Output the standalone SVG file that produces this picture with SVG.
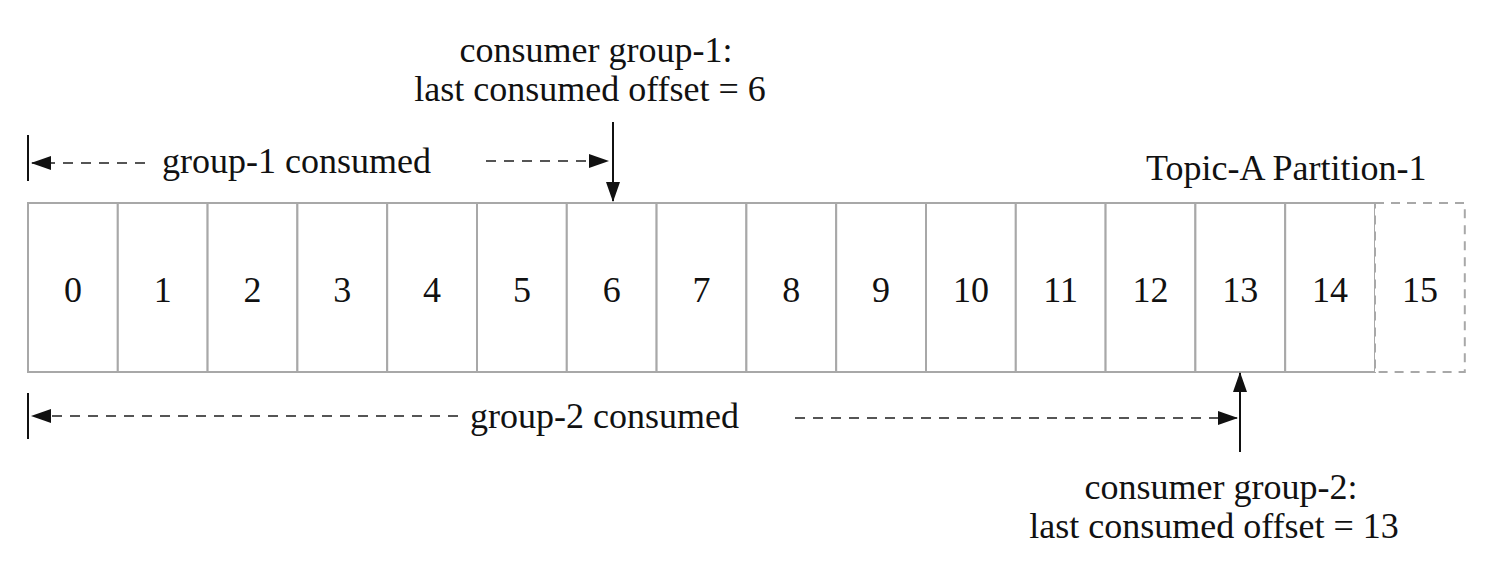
<svg xmlns="http://www.w3.org/2000/svg" width="1488" height="580" viewBox="0 0 1488 580">
<style>
text{font-family:'Liberation Serif','Tinos','DejaVu Serif',serif;fill:#111;font-size:36px}
.num{text-anchor:middle}
.cell{fill:#fff;stroke:#a8a8a8;stroke-width:2}
.cellnew{fill:#fff;stroke:#a8a8a8;stroke-width:2;stroke-dasharray:9 7}
.dash{stroke:#555;stroke-width:2;stroke-dasharray:10 8;fill:none}
.solid{stroke:#111;stroke-width:2;fill:none}
</style>
<defs>
<marker id="ah" markerUnits="userSpaceOnUse" markerWidth="20" markerHeight="14" refX="19" refY="7" orient="auto">
<path d="M0,0 L20,7 L0,14 Z" fill="#111"/>
</marker>
</defs>
<rect width="1488" height="580" fill="#fff"/>
<g id="partition" font-family="Liberation Serif, serif">
<g id="cell-0"><rect class="cell" x="28" y="203" width="89.8" height="169"/><text class="num" x="72.9" y="302">0</text></g>
<g id="cell-1"><rect class="cell" x="117.8" y="203" width="89.8" height="169"/><text class="num" x="162.7" y="302">1</text></g>
<g id="cell-2"><rect class="cell" x="207.6" y="203" width="89.8" height="169"/><text class="num" x="252.5" y="302">2</text></g>
<g id="cell-3"><rect class="cell" x="297.4" y="203" width="89.8" height="169"/><text class="num" x="342.3" y="302">3</text></g>
<g id="cell-4"><rect class="cell" x="387.2" y="203" width="89.8" height="169"/><text class="num" x="432.1" y="302">4</text></g>
<g id="cell-5"><rect class="cell" x="477" y="203" width="89.8" height="169"/><text class="num" x="521.9" y="302">5</text></g>
<g id="cell-6"><rect class="cell" x="566.8" y="203" width="89.8" height="169"/><text class="num" x="611.7" y="302">6</text></g>
<g id="cell-7"><rect class="cell" x="656.6" y="203" width="89.8" height="169"/><text class="num" x="701.5" y="302">7</text></g>
<g id="cell-8"><rect class="cell" x="746.4" y="203" width="89.8" height="169"/><text class="num" x="791.3" y="302">8</text></g>
<g id="cell-9"><rect class="cell" x="836.2" y="203" width="89.8" height="169"/><text class="num" x="881.1" y="302">9</text></g>
<g id="cell-10"><rect class="cell" x="926" y="203" width="89.8" height="169"/><text class="num" x="970.9" y="302">10</text></g>
<g id="cell-11"><rect class="cell" x="1015.8" y="203" width="89.8" height="169"/><text class="num" x="1060.7" y="302">11</text></g>
<g id="cell-12"><rect class="cell" x="1105.6" y="203" width="89.8" height="169"/><text class="num" x="1150.5" y="302">12</text></g>
<g id="cell-13"><rect class="cell" x="1195.4" y="203" width="89.8" height="169"/><text class="num" x="1240.3" y="302">13</text></g>
<g id="cell-14"><rect class="cell" x="1285.2" y="203" width="89.8" height="169"/><text class="num" x="1330.1" y="302">14</text></g>
<g id="cell-15"><rect class="cellnew" x="1375" y="203" width="89.8" height="169"/><text class="num" x="1419.9" y="302">15</text></g>
</g>
<g id="title"><text x="1146" y="180">Topic-A Partition-1</text></g>
<g id="label-group1"><text x="596" y="62" class="num">consumer group-1:</text><text x="590" y="101" class="num">last consumed offset = 6</text></g>
<g id="label-group2"><text x="1221" y="499" class="num">consumer group-2:</text><text x="1214" y="538" class="num">last consumed offset = 13</text></g>
<g id="range-group1"><text x="162" y="173">group-1 consumed</text></g>
<g id="range-group2"><text x="470" y="428">group-2 consumed</text></g>
<g id="connectors">
<line class="solid" x1="28" y1="135" x2="28" y2="181"/>
<line class="dash" x1="145" y1="163" x2="32" y2="163" marker-end="url(#ah)"/>
<line class="dash" x1="486" y1="161" x2="608" y2="161" marker-end="url(#ah)"/>
<line class="solid" x1="613" y1="122" x2="613" y2="201" marker-end="url(#ah)"/>
<line class="solid" x1="28" y1="393" x2="28" y2="439"/>
<line class="dash" x1="458" y1="416" x2="32" y2="416" marker-end="url(#ah)"/>
<line class="dash" x1="795" y1="418" x2="1237" y2="418" marker-end="url(#ah)"/>
<line class="solid" x1="1240" y1="452" x2="1240" y2="373" marker-end="url(#ah)"/>
</g>
</svg>
